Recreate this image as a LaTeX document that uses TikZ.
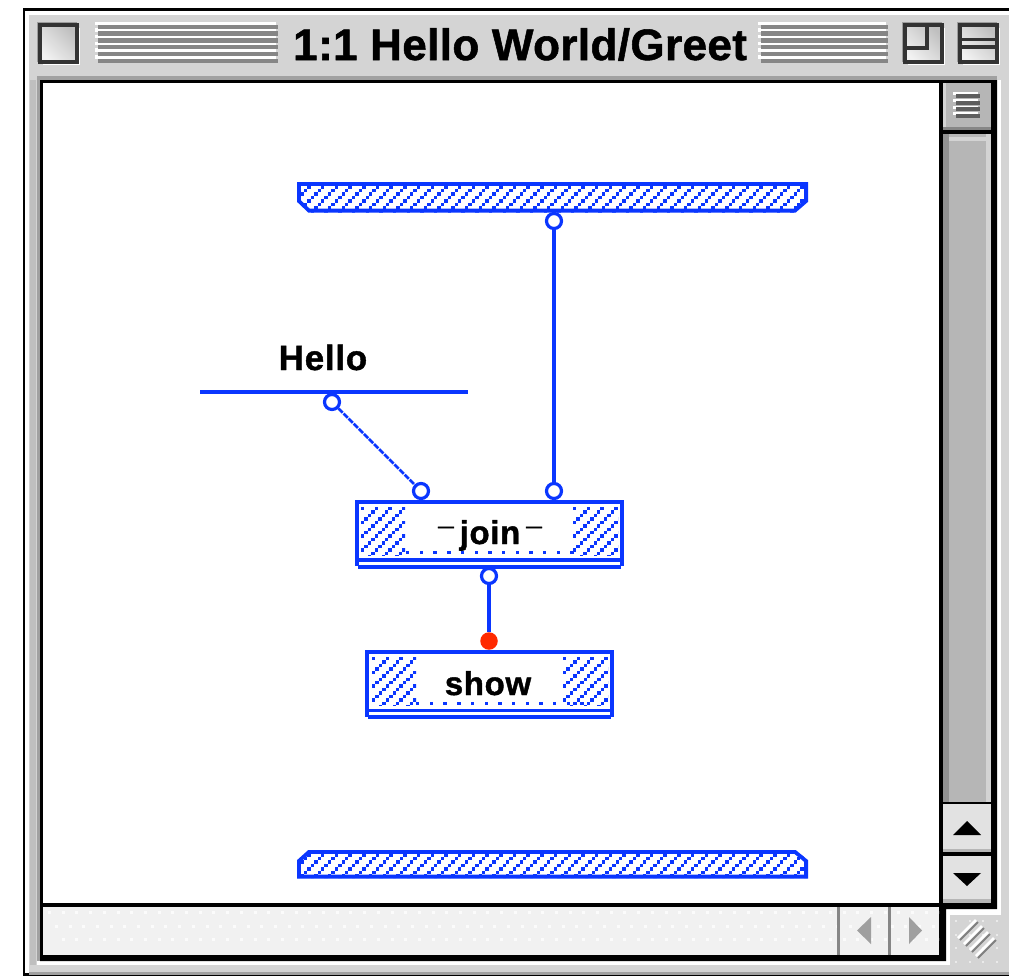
\documentclass[tikz,border=0pt]{standalone}
\usepackage{fontspec}
\setmainfont{Liberation Sans}
\newfontfamily\chicagoish[LetterSpace=2,FakeBold=1.2]{Liberation Sans Bold}
\newfontfamily\titlefont[LetterSpace=0.9,FakeBold=1.2]{Liberation Sans Bold}
\definecolor{pblue}{HTML}{0A36FF}
\definecolor{pred}{HTML}{FF2A00}
\definecolor{chrome}{HTML}{D4D4D4}
\definecolor{stripe}{HTML}{868686}
\definecolor{trackc}{HTML}{B6B6B6}
\definecolor{btnc}{HTML}{E2E2E2}
\definecolor{barc}{HTML}{F1F1F1}
\tikzset{
  x=1bp,y=-1bp,
  port/.style={circle,draw=pblue,fill=white,line width=3.2bp,minimum size=15bp,inner sep=0pt},
  redport/.style={circle,fill=pred,minimum size=17.5bp,inner sep=0pt},
  wire/.style={draw=pblue,line width=3.4bp},
  thinwire/.style={draw=pblue,line width=2.8bp,dash pattern=on 6bp off 1.2bp},
  outline/.style={draw=pblue,line width=3.8bp},
  label/.style={inner sep=0pt,font=\chicagoish\fontsize{33bp}{36bp}\selectfont,text=black,anchor=base},
  blk/.style={fill=black,draw=none},
}
% hatching built of square pixels on diagonals, 4 pixels apart
\newcommand{\hatchrect}[4]{% x0 y0 x1 y1
  \begin{scope}
    \clip (#1,#2) rectangle (#3,#4);
    \pgfmathtruncatemacro{\nlines}{((#3-#1)+(#4-#2))/13.7+1}
    \pgfmathtruncatemacro{\nsteps}{(#4-#2)/3.425+1}
    \foreach \k in {0,...,\nlines}{
      \foreach \s in {0,...,\nsteps}{
        \fill[pblue] ({#1+(\k*13.7)-(\s*3.425)},{#2+\s*3.425}) rectangle ++(3.425,3.425);
      }
    }
  \end{scope}
}
\newcommand{\stripes}[2]{% x0 x1
  \foreach \yy in {23.3,30,36.7,43.3,50,57}{
    \fill[white] (#1,\yy-1.6) rectangle (#2-2,\yy+1.6);
  }
  \foreach \yy in {26.7,33.4,40.4,47.2,54,60.8}{
    \fill[stripe] (#1+2.5,\yy-2.1) rectangle (#2,\yy+2.1);
  }
}
\newcommand{\wbox}[2]{% x0 x1
  \fill[white] (#1+3,28) rectangle (#2+3,65);
  \fill[stripe!70!chrome] (#1-3,22) rectangle (#2,62);
  \shade[left color=chrome!75!gray,right color=white!90!gray,shading angle=-45] (#1,25) rectangle (#2,62);
  \draw[black!80,line width=3.8bp] (#1,25) rectangle (#2,62);
}
\begin{document}
\begin{tikzpicture}
\useasboundingbox (0,0) rectangle (1009,976);
\fill[white] (0,0) rectangle (1009,976);
% window chrome
\fill[black] (23,8) rectangle (1009,976);
\fill[white] (25,11) rectangle (1009,973);
\fill[chrome] (29,15) rectangle (1009,973);
\fill[stripe!65!chrome] (29,972) rectangle (1009,975);
\fill[chrome!90!black] (30,80) rectangle (36,965);
\foreach \k in {0,...,3}{\foreach \j in {0,...,3}{\fill[white!50!chrome] ({955+\k*13.7},{920+\j*13.7}) rectangle ++(2,2);}}
\fill[white] (37,961) rectangle (950,965);
\fill[white] (997,80) rectangle (1001,915);
\fill[white] (946,909) rectangle (1001,915);
\fill[white] (946,909) rectangle (950,965);
\fill[stripe!65!chrome] (37,76) rectangle (997,80);
\fill[stripe!65!chrome] (37,80) rectangle (40,961);
% frame
\fill[blk] (40,80) -- (997,80) -- (997,909) -- (946,909) -- (946,961) -- (40,961) -- cycle;
\fill[white] (43,83) rectangle (939,903);
% title bar
\stripes{95}{278}
\stripes{758}{888}
\wbox{40}{77}
\wbox{905}{942}
\wbox{960}{997}
\draw[black!80,line width=3.6bp] (927,25) -- (927,48) -- (905,48);
\draw[black!80,line width=3.2bp] (960,39.5) -- (997,39.5) (960,47) -- (997,47);
\node[inner sep=0pt,anchor=base west,font=\titlefont\fontsize{44bp}{46bp}\selectfont] (title) at (293,60) {1:1 Hello World/Greet};
% vertical scroll bar
\fill[trackc] (943,83) rectangle (991,130);
\fill[trackc!60!white] (943,83) rectangle (946,128);
\fill[stripe] (943,127) rectangle (991,130);
\foreach \yy in {92,99,105.5,112}{\fill[white] (953,\yy) rectangle (978,\yy+3);}
\foreach \yy in {94,100.5,107,113.5}{\fill[stripe!70!black] (956,\yy) rectangle (980,\yy+4);}
\fill[trackc] (943,134) rectangle (991,802);
\fill[stripe!75!trackc] (943,134) rectangle (949,802);
\fill[trackc!60!white] (986,134) rectangle (991,802);
\fill[trackc!60!white] (949,137) rectangle (986,141);
\fill[btnc] (943,804) rectangle (991,852);
\fill[trackc] (943,849) rectangle (991,852);
\fill[btnc] (943,856) rectangle (991,903);
\fill[trackc] (943,899) rectangle (991,903);
\fill[black] (967,821) -- (981,835) -- (953,835) -- cycle;
\fill[black] (967,886) -- (981,873) -- (953,873) -- cycle;
% horizontal scroll bar
\fill[barc] (43,907) rectangle (939,955);
\begin{scope}
  \clip (43,907) rectangle (939,955);
  \foreach \k in {0,...,65}{\foreach \j in {0,1,2}{\fill[white!70!barc] ({48+\k*13.7+\j*6.85},{911+\j*13.7}) rectangle ++(3,3);}}
\end{scope}
\fill[stripe] (837,907) rectangle (839.5,955);
\fill[stripe] (888,907) rectangle (890.5,955);
\fill[gray!75] (857,930.5) -- (871,917) -- (871,944) -- cycle;
\fill[gray!75] (922,930.5) -- (909,917) -- (909,944) -- cycle;
% grow box
\foreach \d in {0,6,12,18}{
  \draw[gray,line width=2bp] (960+\d,940+\d) -- ++(18,-18);
  \draw[white,line width=2.6bp] (958+\d,938+\d) -- ++(18,-18);
}
% top and bottom bars
\begin{scope}
  \clip (297,182) -- (808,182) -- (808,201) -- (795,212.5) -- (309,212.5) -- (297,201) -- cycle;
  \hatchrect{297}{182}{808}{213}
\end{scope}
\draw[outline] (298.9,183.9) -- (806.1,183.9) -- (806.1,201) -- (795,210.6) -- (309,210.6) -- (298.9,201) -- cycle;
\begin{scope}
  \clip (297,878) -- (808,878) -- (808,860) -- (795,850) -- (309,850) -- (297,860) -- cycle;
  \hatchrect{297}{850}{808}{878}
\end{scope}
\draw[outline] (298.9,876.6) -- (806.1,876.6) -- (806.1,861) -- (795,851.9) -- (309,851.9) -- (298.9,861) -- cycle;
% Hello
\node[label,font=\chicagoish\fontsize{35bp}{36bp}\selectfont] (hello) at (323,370) {Hello};
\draw[wire] (200,392) coordinate (hl) -- (468,392) coordinate (hr);
% join box
\hatchrect{361}{507}{405}{555}
\hatchrect{573}{507}{618}{555}
\foreach \k in {0,...,12}{\fill[pblue] (406+\k*13.7,551) rectangle ++(3.4,3.4);}
\draw[outline] (356.9,500) -- (356.9,566);
\draw[outline] (622.1,500) -- (622.1,566);
\draw[outline] (355,502) -- (624,502);
\draw[outline] (355,560) -- (624,560);
\draw[outline] (358,566.6) -- (621,566.6);
\node[label] (join) at (490,544) {\raisebox{-4bp}{\fontsize{28bp}{30bp}\selectfont ¯}\kern6bp join\kern6bp\raisebox{-4bp}{\fontsize{28bp}{30bp}\selectfont ¯}};
% show box
\hatchrect{372}{657}{416}{705}
\hatchrect{563}{657}{608}{705}
\foreach \k in {0,...,12}{\fill[pblue] (416+\k*13.7,701.5) rectangle ++(3.4,3.4);}
\draw[outline] (366.9,650) -- (366.9,717);
\draw[outline] (612.1,650) -- (612.1,717);
\draw[outline] (365,652) -- (614,652);
\draw[outline] (365,710.5) -- (614,710.5);
\draw[outline] (368,716.6) -- (611,716.6);
\node[label] (show) at (488,695) {show};
% ports
\node[port] (p1) at (554,221) {};
\node[port] (p2) at (332,402) {};
\node[port] (p3) at (421,491) {};
\node[port] (p4) at (554,491) {};
\node[port] (p5) at (489,576) {};
\node[redport] (p6) at (489,641) {};
\draw[wire] (p1) -- (p4);
\draw[thinwire] (p2) -- (p3);
\draw[wire] (p5) -- (p6);
\end{tikzpicture}
\end{document}
